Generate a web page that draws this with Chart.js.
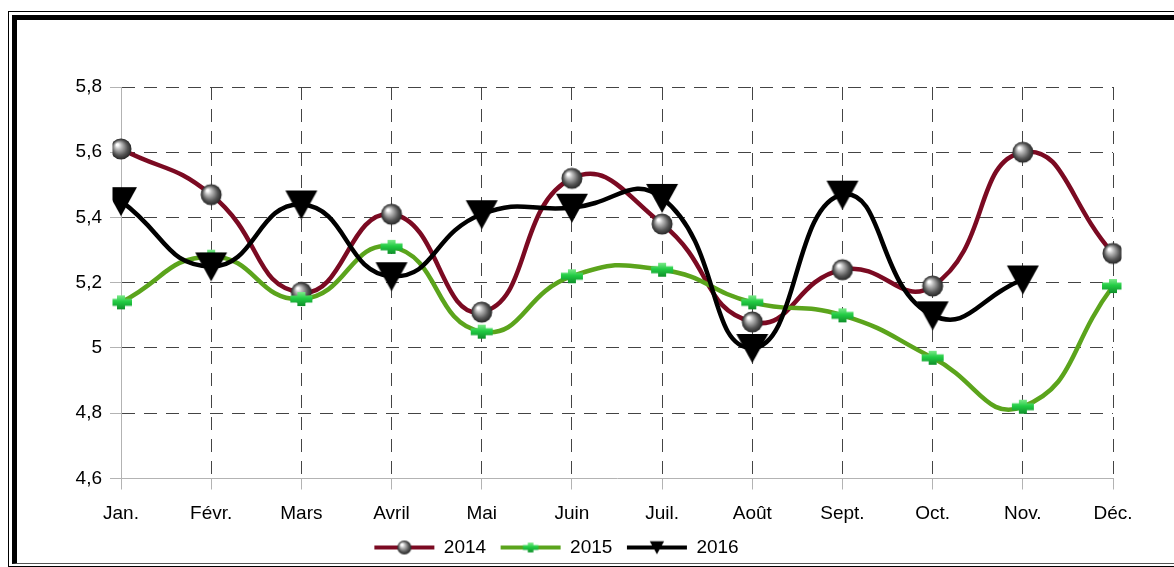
<!DOCTYPE html>
<html>
<head>
<meta charset="utf-8">
<script src="https://cdn.jsdelivr.net/npm/chart.js@4/dist/chart.umd.min.js"></script>
<style>
  html, body { margin: 0; padding: 0; background: #fff; overflow: hidden; }
  #wrap { position: relative; width: 1174px; height: 567px; }
  #outer { position: absolute; left: 8px; top: 11px; width: 1200px; height: 554px; border: 1px solid #000; }
  #inner { position: absolute; left: 12px; top: 15px; width: 1200px; height: 543px;
           border-left: 5px solid #000; border-top: 5px solid #000; border-bottom: 1px solid #555; }
  #chart { position: absolute; left: 0; top: 0; }
</style>
</head>
<body>
<div id="wrap">
  <div id="outer"></div>
  <div id="inner"></div>
  <canvas id="chart" width="1174" height="567"></canvas>
</div>
<script>
const months = ['Jan.', 'Févr.', 'Mars', 'Avril', 'Mai', 'Juin', 'Juil.', 'Août', 'Sept.', 'Oct.', 'Nov.', 'Déc.'];
const values2014 = [5.61, 5.47, 5.17, 5.41, 5.11, 5.52, 5.38, 5.08, 5.24, 5.19, 5.60, 5.29];
const values2015 = [5.14, 5.28, 5.15, 5.31, 5.05, 5.22, 5.24, 5.14, 5.10, 4.97, 4.82, 5.19];
const values2016 = [5.45, 5.25, 5.44, 5.22, 5.41, 5.43, 5.46, 5.00, 5.47, 5.10, 5.21, null];
const yTicks = [4.6, 4.8, 5, 5.2, 5.4, 5.6, 5.8];

// marker images
function makeCanvas(w, h) {
    const c = document.createElement('canvas');
    c.width = w; c.height = h;
    return c;
}

function sphere(ctx, x, y, r) {
    const g = ctx.createRadialGradient(x - r * 0.35, y - r * 0.4, 1, x, y, r);
    g.addColorStop(0, '#ffffff');
    g.addColorStop(0.25, '#bdbdbd');
    g.addColorStop(0.7, '#555555');
    g.addColorStop(1, '#262626');
    ctx.fillStyle = g;
    ctx.beginPath();
    ctx.arc(x, y, r, 0, Math.PI * 2);
    ctx.fill();
}

function plus(ctx, x, y) {
    const g = ctx.createLinearGradient(x, y - 7, x, y + 7);
    g.addColorStop(0, '#7dea8a');
    g.addColorStop(0.45, '#22cc44');
    g.addColorStop(1, '#0f8f2a');
    ctx.fillStyle = g;
    ctx.fillRect(x - 11, y - 3.5, 22, 7);
    ctx.fillRect(x - 4, y - 7, 8, 14);
}

function triangle(ctx, x, y) {
    ctx.fillStyle = '#000';
    ctx.beginPath();
    ctx.moveTo(x - 16, y - 14);
    ctx.lineTo(x + 16, y - 14);
    ctx.lineTo(x, y + 15);
    ctx.closePath();
    ctx.fill();
}

const sphereImg = makeCanvas(24, 24);
sphere(sphereImg.getContext('2d'), 12, 12, 10.5);
const plusImg = makeCanvas(24, 16);
plus(plusImg.getContext('2d'), 12, 8);
const triImg = makeCanvas(34, 32);
triangle(triImg.getContext('2d'), 17, 16);

function legendImg(color, draw) {
    const c = makeCanvas(64, 24);
    const ctx = c.getContext('2d');
    ctx.strokeStyle = color;
    ctx.lineWidth = 4;
    ctx.beginPath();
    ctx.moveTo(2, 12);
    ctx.lineTo(62, 12);
    ctx.stroke();
    draw(ctx);
    return c;
}

const legendIcons = [
    legendImg('#7b0a22', ctx => sphere(ctx, 32, 12, 7)),
    legendImg('#5ba41c', ctx => { ctx.save(); ctx.translate(32, 12); ctx.scale(0.7, 0.7); plus(ctx, 0, 0); ctx.restore(); }),
    legendImg('#000000', ctx => { ctx.save(); ctx.translate(32, 12); ctx.scale(0.45, 0.45); triangle(ctx, 0, 0); ctx.restore(); })
];

Chart.defaults.font.family = '"Liberation Sans", Arial, sans-serif';
Chart.defaults.font.size = 19;
Chart.defaults.color = '#000';

const gridOpts = {
    color: c => c.index === 0 ? 'rgba(0,0,0,0)' : '#444',
    lineWidth: 1,
    tickLength: 11,
    tickColor: '#b3b3b3',
    tickBorderDash: []
};

const ctx = document.getElementById('chart').getContext('2d');
const myChart = new Chart(ctx, {
    type: 'line',
    data: {
        labels: months,
        datasets: [
            {
                label: '2014',
                data: values2014,
                borderColor: '#7b0a22',
                borderWidth: 4.5,
                tension: 0.5,
                pointStyle: sphereImg,
                order: 3
            },
            {
                label: '2015',
                data: values2015,
                borderColor: '#5ba41c',
                borderWidth: 4.5,
                tension: 0.5,
                pointStyle: plusImg,
                order: 2
            },
            {
                label: '2016',
                data: values2016,
                borderColor: '#000000',
                borderWidth: 4.5,
                tension: 0.5,
                pointStyle: triImg,
                order: 1
            }
        ]
    },
    options: {
        responsive: false,
        animation: false,
        layout: {
            padding: { top: 87, right: 61, bottom: 0, left: 0 }
        },
        plugins: {
            tooltip: { enabled: false },
            legend: {
                position: 'bottom',
                maxHeight: 44,
                labels: {
                    usePointStyle: true,
                    pointStyleWidth: 60,
                    padding: 14.5,
                    boxHeight: 19,
                    generateLabels: function (chart) {
                        return chart.data.datasets.map((ds, i) => ({
                            text: ds.label,
                            pointStyle: legendIcons[i],
                            fillStyle: 'transparent',
                            strokeStyle: 'transparent',
                            lineWidth: 0,
                            datasetIndex: i,
                            hidden: false
                        }));
                    }
                }
            }
        },
        scales: {
            x: {
                afterFit: function (scale) { scale.height = 45; },
                grid: gridOpts,
                border: { display: true, color: '#b3b3b3', dash: [13, 9] },
                ticks: { padding: 15, maxRotation: 0, autoSkip: false, font: { lineHeight: 1 } }
            },
            y: {
                min: 4.6,
                max: 5.8,
                afterFit: function (scale) { scale.width = 121; },
                afterBuildTicks: function (scale) {
                    scale.ticks = yTicks.map(v => ({ value: v }));
                },
                grid: gridOpts,
                border: { display: true, color: '#b3b3b3', dash: [13, 9] },
                ticks: {
                    padding: 8,
                    callback: function (value) {
                        return String(Number(value.toFixed(1))).replace('.', ',');
                    }
                }
            }
        }
    }
});
</script>
</body>
</html>
